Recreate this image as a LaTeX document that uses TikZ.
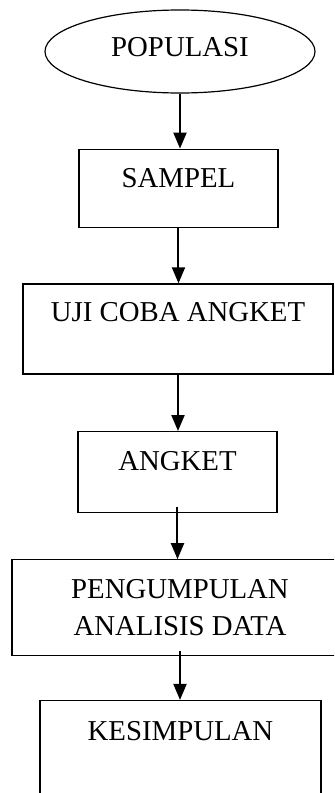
\documentclass[tikz,border=0pt]{standalone}
\usepackage{fontspec}
\setmainfont{Liberation Serif}
\usetikzlibrary{shapes,arrows.meta,positioning}

\begin{document}
\begin{tikzpicture}[
    font=\fontsize{14.4}{18.5}\selectfont,
    start/.style={ellipse, draw, line width=0.6pt, minimum width=135pt,
        minimum height=41.5pt, inner sep=0pt, text height=10pt, text depth=5pt},
    box/.style={rectangle, draw, line width=0.6pt, inner sep=0pt},
    arrow/.style={->, line width=1pt, >={Triangle[width=6.5pt,length=8pt]}}
]
    \useasboundingbox (-90pt,25.75pt) rectangle (77pt,-370.75pt);
    \clip (-90pt,25.75pt) rectangle (77pt,-370.75pt);
    \node[start] (populasi) {POPULASI};
    \node[box, minimum width=99.5pt, text height=19pt, text depth=20pt,
        below=27.5pt of populasi, xshift=-0.75pt] (sampel) {SAMPEL};
    \node[box, minimum width=155pt, text height=19pt, text depth=26pt,
        below=27.75pt of sampel, xshift=-0.25pt] (ujicoba) {UJI COBA ANGKET};
    \node[box, minimum width=99.5pt, text height=19.5pt, text depth=21pt,
        below=28.25pt of ujicoba, xshift=-0.25pt] (angket) {ANGKET};
    \node[box, minimum width=168pt, minimum height=48pt, align=center,
        below=23pt of angket, xshift=1.25pt] (pengumpulan) {PENGUMPULAN\\ANALISIS DATA};
    \node[box, minimum width=140.5pt, text height=20pt, text depth=30pt,
        below=21.75pt of pengumpulan, xshift=0.25pt] (kesimpulan) {KESIMPULAN};
    \draw[arrow] (populasi.south) -- (populasi.south |- sampel.north);
    \draw[arrow] (sampel.south) -- (sampel.south |- ujicoba.north);
    \draw[arrow] (ujicoba.south) -- (ujicoba.south |- angket.north);
    \draw[arrow, shorten <=-3pt] (angket.south) -- (angket.south |- pengumpulan.north);
    \draw[arrow, shorten <=-2.5pt] (pengumpulan.south) -- (pengumpulan.south |- kesimpulan.north);
\end{tikzpicture}
\end{document}
